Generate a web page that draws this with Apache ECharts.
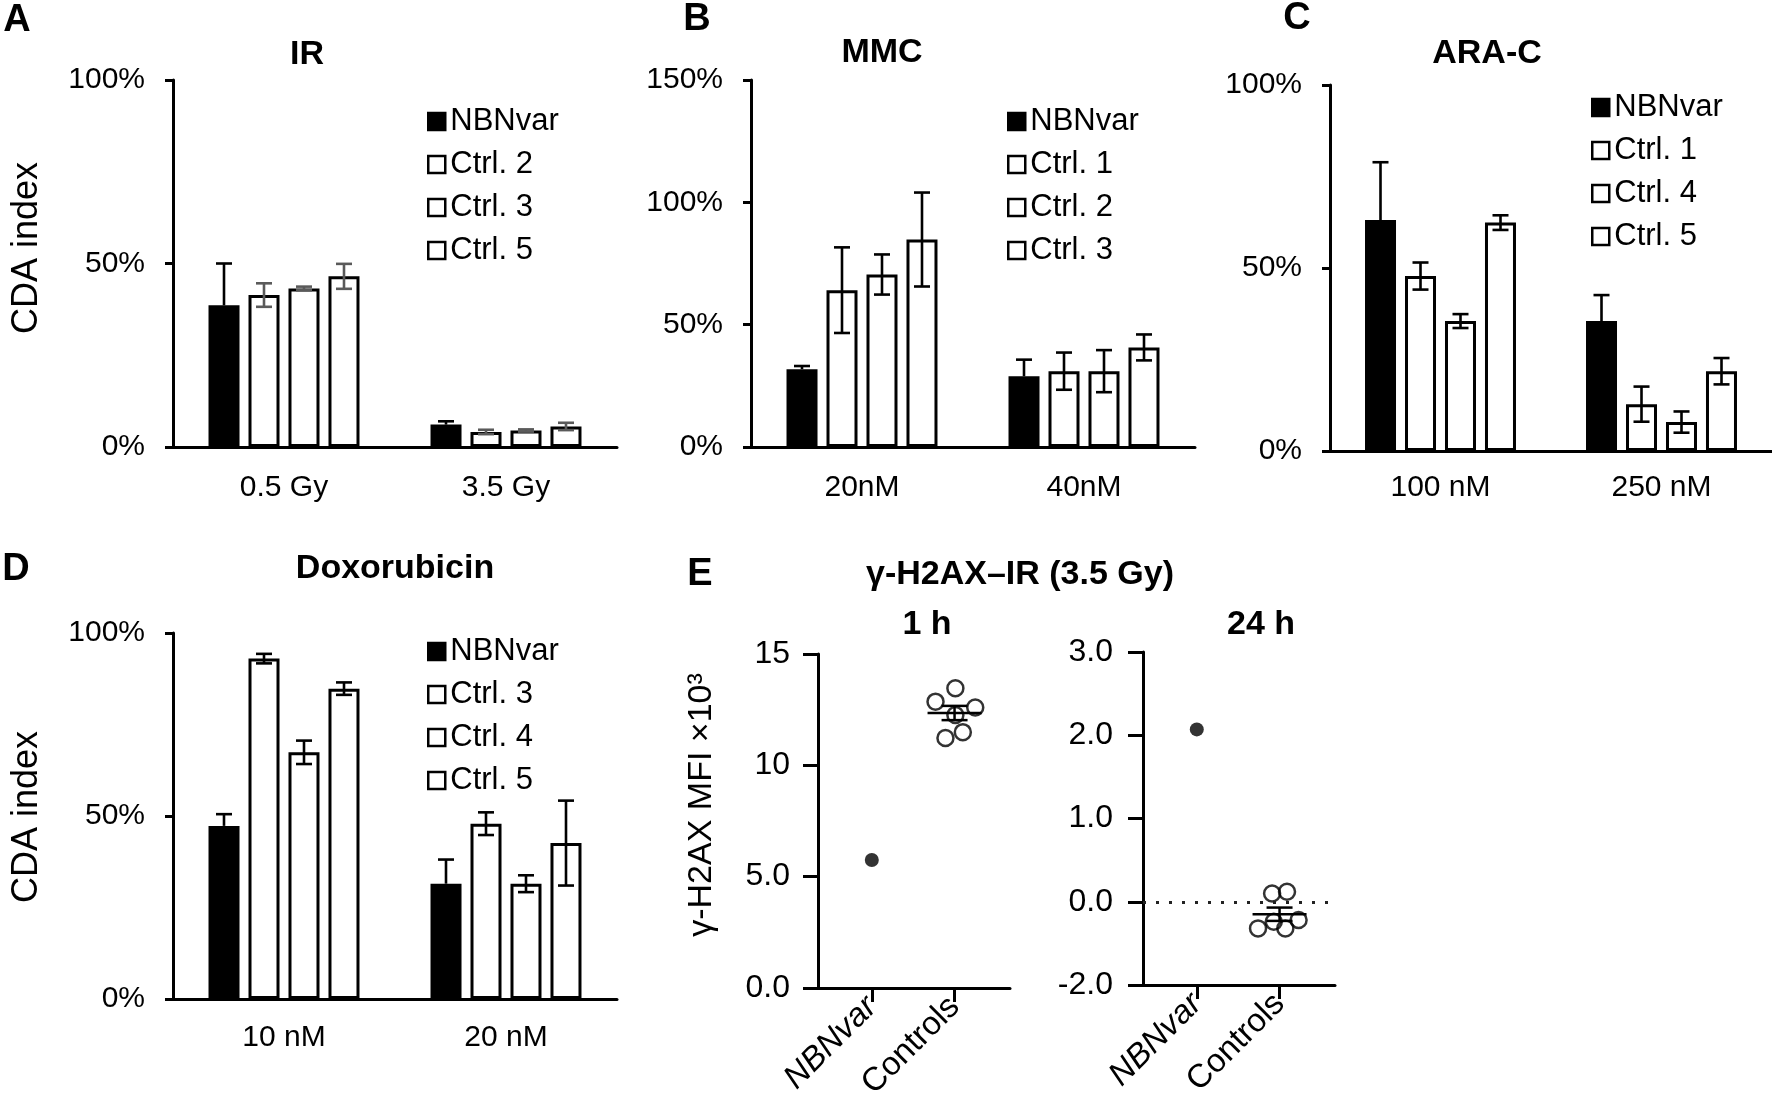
<!DOCTYPE html>
<html>
<head>
<meta charset="utf-8">
<script src="https://cdn.jsdelivr.net/npm/echarts@6/dist/echarts.min.js"></script>
<style>
  html, body { margin: 0; padding: 0; background: #ffffff; }
  #chart { width: 1772px; height: 1120px; }
</style>
</head>
<body>
<div id="chart"></div>
<script>
// ---------------- DATA ----------------
// Panel A — IR
const irCategories = ['0.5 Gy', '3.5 Gy'];
const irNames = ['NBNvar', 'Ctrl. 2', 'Ctrl. 3', 'Ctrl. 5'];
const irValues = [[38.6, 6.1], [41.4, 4.1], [43.2, 4.5], [46.5, 5.6]];
const irErrors = [[11.4, 0.9], [3.2, 0.6], [0.5, 0.3], [3.4, 1.0]];

// Panel B — MMC
const mmcCategories = ['20nM', '40nM'];
const mmcNames = ['NBNvar', 'Ctrl. 1', 'Ctrl. 2', 'Ctrl. 3'];
const mmcValues = [[31.8, 28.9], [64.1, 31.0], [70.5, 31.0], [84.8, 40.7]];
const mmcErrors = [[1.3, 6.8], [17.5, 7.6], [8.2, 8.6], [19.2, 5.3]];

// Panel C — ARA-C
const aracCategories = ['100 nM', '250 nM'];
const aracNames = ['NBNvar', 'Ctrl. 1', 'Ctrl. 4', 'Ctrl. 5'];
const aracValues = [[63.1, 35.5], [47.8, 12.8], [35.5, 7.9], [62.4, 21.8]];
const aracErrors = [[15.8, 7.1], [3.7, 4.8], [1.9, 2.9], [2.0, 3.6]];

// Panel D — Doxorubicin
const doxCategories = ['10 nM', '20 nM'];
const doxNames = ['NBNvar', 'Ctrl. 3', 'Ctrl. 4', 'Ctrl. 5'];
const doxValues = [[47.3, 31.5], [93.0, 47.9], [67.4, 31.5], [84.8, 42.6]];
const doxErrors = [[3.2, 6.6], [1.3, 3.1], [3.2, 2.3], [1.7, 11.6]];

// Panel E — γ-H2AX (×10^3 MFI)
const eGroups = ['NBNvar', 'Controls'];
const h1TickLabels = ['0.0', '5.0', '10', '15'];
const h24TickLabels = ['-2.0', '0.0', '1.0', '2.0', '3.0'];
const h1NBNvar = [5.75];
const h1Controls = [13.46, 12.86, 12.60, 12.26, 11.23, 11.49];
const h1ControlsSpread = [0.01, -0.23, 0.25, 0.01, -0.11, 0.10];
const h1MeanSem = [12.35, 0.32];
const h24NBNvar = [2.07];
const h24Controls = [0.10, 0.12, -0.32, -0.24, -0.32, -0.22];
const h24ControlsSpread = [-0.09, 0.09, -0.26, -0.07, 0.07, 0.23];
const h24MeanSem = [-0.15, 0.08];

// ---------------- STYLE / LAYOUT ----------------
const FONT = "'Liberation Sans', Arial, Helvetica, sans-serif";
const BAR_W = 31, BAR_PITCH = 40, CAP = 8, ERR_W = 2.6;
const E_POS = [0.65, 1.65];

const panels = [
  { cats: irCategories, names: irNames, vals: irValues, errs: irErrors, yMax: 100, labMargin: 26,
    grid: { left: 173, top: 80, width: 444, height: 367 }, legend: { left: 427, top: 106 }, ctrlErr: '#5a5a5a' },
  { cats: mmcCategories, names: mmcNames, vals: mmcValues, errs: mmcErrors, yMax: 150, labMargin: 26,
    grid: { left: 751, top: 80, width: 444, height: 367 }, legend: { left: 1007, top: 106 }, ctrlErr: '#000' },
  { cats: aracCategories, names: aracNames, vals: aracValues, errs: aracErrors, yMax: 100, labMargin: 22,
    grid: { left: 1330, top: 85, width: 442, height: 366 }, legend: { left: 1591, top: 92 }, ctrlErr: '#000' },
  { cats: doxCategories, names: doxNames, vals: doxValues, errs: doxErrors, yMax: 100, labMargin: 24,
    grid: { left: 173, top: 633, width: 444, height: 366 }, legend: { left: 427, top: 636 }, ctrlErr: '#000' }
];

const axisLineStyle = { color: '#000', width: 3 };

function errRender(i, color, upOnly) {
  return function (params, api) {
    const j = api.value(0), v = api.value(1), e = api.value(2);
    const c = api.coord([j, v]);
    const x = c[0] + (i - 1.5) * BAR_PITCH;
    const yT = api.coord([j, v + e])[1];
    const yB = upOnly ? c[1] : api.coord([j, v - e])[1];
    const st = { stroke: color, lineWidth: ERR_W, fill: null };
    const ch = [
      { type: 'line', shape: { x1: x, y1: yT, x2: x, y2: yB }, style: st },
      { type: 'line', shape: { x1: x - CAP, y1: yT, x2: x + CAP, y2: yT }, style: st }
    ];
    if (!upOnly) ch.push({ type: 'line', shape: { x1: x - CAP, y1: yB, x2: x + CAP, y2: yB }, style: st });
    return { type: 'group', children: ch };
  };
}

function meanRender(params, api) {
  const x = api.value(0), m = api.value(1), s = api.value(2);
  const c = api.coord([x, m]);
  const t = api.coord([x, m + s])[1];
  const b = api.coord([x, m - s])[1];
  const st = { stroke: '#000', lineWidth: 2.5, fill: null };
  return {
    type: 'group', children: [
      { type: 'line', shape: { x1: c[0] - 27, y1: c[1], x2: c[0] + 27, y2: c[1] }, style: st },
      { type: 'line', shape: { x1: c[0], y1: t, x2: c[0], y2: b }, style: st },
      { type: 'line', shape: { x1: c[0] - 13, y1: t, x2: c[0] + 13, y2: t }, style: st },
      { type: 'line', shape: { x1: c[0] - 13, y1: b, x2: c[0] + 13, y2: b }, style: st }
    ]
  };
}

const grids = [], xAxes = [], yAxes = [], series = [], legends = [];

panels.forEach((p, k) => {
  grids.push(Object.assign({ containLabel: false, outerBoundsMode: 'none' }, p.grid));
  xAxes.push({
    gridIndex: k, type: 'category', data: p.cats,
    axisTick: { show: false },
    axisLine: { show: true, onZero: false, lineStyle: axisLineStyle },
    axisLabel: { fontSize: 30, fontFamily: FONT, color: '#000', margin: p.labMargin },
    splitLine: { show: false }
  });
  yAxes.push({
    gridIndex: k, type: 'value', min: 0, max: p.yMax, interval: 50,
    axisLine: { show: true, onZero: false, lineStyle: axisLineStyle },
    axisTick: { show: true, length: 8, lineStyle: { color: '#000', width: 3 } },
    splitLine: { show: false },
    axisLabel: { formatter: '{value}%', fontSize: 30, fontFamily: FONT, color: '#000', margin: 28 }
  });
  p.names.forEach((name, i) => {
    series.push({
      type: 'bar', name: name, xAxisIndex: k, yAxisIndex: k,
      data: p.vals[i], barWidth: BAR_W, barGap: '29%',
      itemStyle: { color: i === 0 ? '#000' : '#fff', borderColor: '#000', borderWidth: 3 },
      emphasis: { disabled: true }, silent: true
    });
  });
  p.names.forEach((name, i) => {
    series.push({
      type: 'custom', xAxisIndex: k, yAxisIndex: k, z: 5, silent: true,
      data: p.cats.map((c, j) => [j, p.vals[i][j], p.errs[i][j]]),
      encode: { x: 0, y: 1 },
      renderItem: errRender(i, i === 0 ? '#000' : p.ctrlErr, i === 0)
    });
  });
  legends.push({
    orient: 'vertical', left: p.legend.left, top: p.legend.top, padding: 0,
    itemWidth: 17, itemHeight: 17, itemGap: 12, icon: 'rect', selectedMode: false,
    textStyle: { fontSize: 31, lineHeight: 31, fontFamily: FONT, color: '#000' },
    data: p.names.map((n, i) => ({
      name: n,
      itemStyle: { color: i === 0 ? '#000' : '#fff', borderColor: '#000', borderWidth: 2.5 }
    }))
  });
});

// Panel E grids
grids.push({ left: 818, top: 654, width: 192, height: 334, containLabel: false, outerBoundsMode: 'none' });
grids.push({ left: 1143, top: 652, width: 192, height: 333, containLabel: false, outerBoundsMode: 'none' });

function eLabel(v) {
  const idx = E_POS.findIndex(p => Math.abs(p - v) < 1e-6);
  if (idx < 0) return '';
  return idx === 0 ? '{it|' + eGroups[0] + '}' : eGroups[1];
}

[4, 5].forEach(g => {
  xAxes.push({
    gridIndex: g, type: 'value', min: 0, max: 2.32,
    axisLine: { show: true, onZero: false, lineStyle: axisLineStyle },
    splitLine: { show: false },
    axisTick: { show: true, customValues: E_POS, length: 14, lineStyle: { color: '#000', width: 3 } },
    axisLabel: {
      show: true, customValues: E_POS, rotate: 45, margin: 14, fontSize: 33, fontFamily: FONT, color: '#000',
      formatter: eLabel,
      rich: { it: { fontStyle: 'italic', fontSize: 33, fontFamily: FONT, color: '#000' } }
    }
  });
});

yAxes.push({
  gridIndex: 4, type: 'value', min: 0, max: 15, interval: 5,
  axisLine: { show: true, onZero: false, lineStyle: axisLineStyle },
  axisTick: { show: true, length: 15, lineStyle: { color: '#000', width: 3 } },
  splitLine: { show: false },
  axisLabel: { fontSize: 32, fontFamily: FONT, color: '#000', margin: 28,
    formatter: v => h1TickLabels[Math.round(v / 5)] }
});
yAxes.push({
  gridIndex: 5, type: 'value', min: -1, max: 3, interval: 1,
  axisLine: { show: true, onZero: false, lineStyle: axisLineStyle },
  axisTick: { show: true, length: 15, lineStyle: { color: '#000', width: 3 } },
  splitLine: { show: false },
  axisLabel: { fontSize: 32, fontFamily: FONT, color: '#000', margin: 30,
    formatter: v => h24TickLabels[Math.round(v + 1)] }
});

function eSeries(ax, nbn, ctrl, spread, ms, zeroLine) {
  series.push({
    type: 'scatter', xAxisIndex: ax, yAxisIndex: ax, silent: true,
    data: nbn.map(v => [E_POS[0], v]), symbol: 'circle', symbolSize: 14,
    itemStyle: { color: '#000' }
  });
  const s = {
    type: 'scatter', xAxisIndex: ax, yAxisIndex: ax, silent: true,
    data: ctrl.map((v, k) => [E_POS[1] + spread[k], v]), symbol: 'circle', symbolSize: 16,
    itemStyle: { color: 'rgba(255,255,255,0)', borderColor: '#000', borderWidth: 2.5 }
  };
  if (zeroLine) {
    s.markLine = {
      silent: true, symbol: 'none', label: { show: false },
      lineStyle: { type: [3, 10], width: 3, color: '#222' },
      data: [{ yAxis: 0 }]
    };
  }
  series.push(s);
  series.push({
    type: 'custom', xAxisIndex: ax, yAxisIndex: ax, silent: true, z: 4,
    data: [[E_POS[1], ms[0], ms[1]]], encode: { x: 0, y: 1 },
    renderItem: meanRender
  });
}
eSeries(4, h1NBNvar, h1Controls, h1ControlsSpread, h1MeanSem, false);
eSeries(5, h24NBNvar, h24Controls, h24ControlsSpread, h24MeanSem, true);

// Texts
function txt(text, x, y, size, bold, rot) {
  return {
    type: 'text', x: x, y: y, rotation: rot || 0, silent: true,
    style: { text: text, fontSize: size, fontWeight: bold ? 'bold' : 'normal',
      fontFamily: FONT, fill: '#000', align: 'center', verticalAlign: 'middle' }
  };
}
const graphics = [
  txt('A', 17, 21, 38, true), txt('B', 697, 20, 38, true), txt('C', 1297, 19, 38, true),
  txt('D', 16, 570, 38, true), txt('E', 700, 575, 38, true),
  txt('IR', 307, 55, 34, true), txt('MMC', 882, 53, 34, true), txt('ARA-C', 1487, 54, 34, true),
  txt('Doxorubicin', 395, 569, 34, true),
  txt('γ-H2AX–IR (3.5 Gy)', 1020, 575, 34, true),
  txt('1 h', 927, 625, 34, true), txt('24 h', 1261, 625, 34, true),
  txt('CDA index', 27, 248, 36, false, Math.PI / 2),
  txt('CDA index', 27, 817, 36, false, Math.PI / 2),
  txt('γ-H2AX MFI ×10³', 702, 805, 34, false, Math.PI / 2)
];

const option = {
  backgroundColor: '#ffffff',
  animation: false,
  textStyle: { fontFamily: FONT },
  grid: grids,
  xAxis: xAxes,
  yAxis: yAxes,
  legend: legends,
  series: series,
  graphic: { elements: graphics }
};

const chart = echarts.init(document.getElementById('chart'), null, { renderer: 'canvas' });
chart.setOption(option);
</script>
</body>
</html>
